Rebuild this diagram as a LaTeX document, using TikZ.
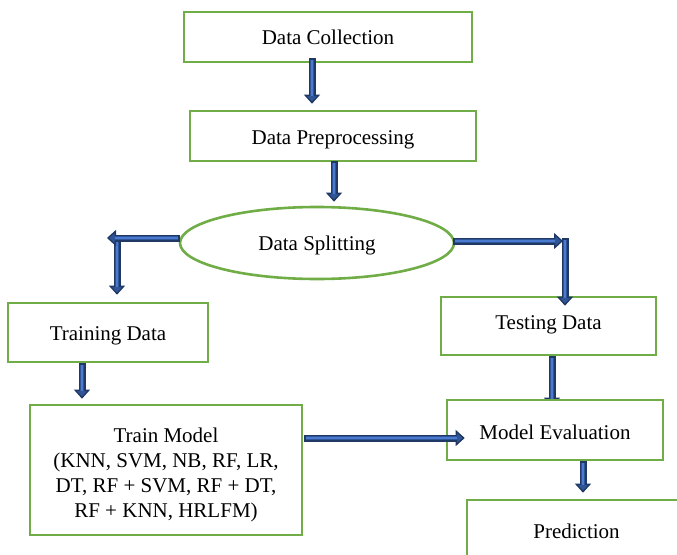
\documentclass[tikz,border=0pt]{standalone}
\usepackage{fontspec}
\setmainfont{Liberation Serif}
\usetikzlibrary{arrows.meta,shapes.geometric,backgrounds}
\definecolor{boxgreen}{HTML}{70AD47}
\definecolor{arrownavy}{HTML}{1F3864}
\definecolor{arrowblue}{HTML}{2F5597}
\definecolor{arrowstripe}{HTML}{4A7BD0}
% block arrow: navy outline, blue body, light centre stripe
\newcommand\flowarrow[2]{%
  \draw[arrownavy, line width=1pt, -{Triangle[length=9pt,width=16pt,fill=arrowblue,line width=1.3pt]}] (#1) -- (#2);
  \draw[arrownavy, line width=7pt, shorten >=8pt] (#1) -- (#2);
  \draw[arrowblue, line width=4pt, shorten >=7pt, shorten <=1.5pt] (#1) -- (#2);
  \draw[arrowstripe, line width=1.2pt, shorten >=8pt, shorten <=1.5pt] (#1) -- (#2);
}
\begin{document}
\begin{tikzpicture}[x=1pt, y=-1pt,
  box/.style={draw=boxgreen, line width=2.6pt, fill=white, rectangle,
    inner sep=0pt, text height=14pt, text depth=0pt,
    font=\fontsize{21}{25}\selectfont}]
\useasboundingbox (0,0) rectangle (677,554);
\clip (0,0) rectangle (677,554);

\node[box, minimum width=288pt, minimum height=50pt] (dc) at (328,37) {Data Collection};
\node[box, minimum width=286pt, minimum height=50pt, text height=16pt] (dp) at (333,136) {Data Preprocessing};
\node[box, ellipse, minimum width=274pt, minimum height=72pt] (ds) at (317,243) {Data Splitting};
\node[box, minimum width=200pt, minimum height=59pt, text height=15pt] (td) at (108,332.5) {Training Data};
\node[box, minimum width=215pt, minimum height=58pt, text depth=8pt] (ted) at (548.5,326) {Testing Data};
\node[box, minimum width=272pt, minimum height=130pt, align=center,
  text height=94pt, text depth=0pt] (tm) at (166,470)
  {Train Model\\(KNN, SVM, NB, RF, LR,\\DT, RF + SVM, RF + DT,\\RF + KNN, HRLFM)};
\node[box, minimum width=216pt, minimum height=60pt, text height=18pt] (me) at (555,430) {Model Evaluation};
\node[box, minimum width=219pt, minimum height=62pt] (pr) at (576.5,531) {Prediction};

% arrow end points
\coordinate (a1s) at ([xshift=-16pt,yshift=5pt]dc.south);
\coordinate (a1e) at ([yshift=6pt]a1s |- dp.north);
\coordinate (a2s) at ([xshift=1pt,yshift=1pt]dp.south);
\coordinate (a2e) at ([yshift=4pt]a2s |- ds.north);
\coordinate (a3s) at ([xshift=1pt,yshift=5pt]ds.west);
\coordinate (a3e) at ([xshift=-1pt]td.north |- a3s);
\coordinate (a4s) at ([xshift=9pt,yshift=1pt]td.north |- a3s);
\coordinate (a4e) at ([xshift=9pt,yshift=7pt]td.north);
\coordinate (a5s) at ([xshift=-2pt,yshift=2pt]ds.east);
\coordinate (a5e) at ([xshift=14.5pt]ted.north |- a5s);
\coordinate (a6s) at ([xshift=16.5pt,yshift=3pt]ted.north |- a5s);
\coordinate (a6e) at ([xshift=16.5pt,yshift=-10pt]ted.north);
\coordinate (a7s) at ([xshift=-26pt]td.south);
\coordinate (a7e) at ([yshift=5pt]a7s |- tm.north);
\coordinate (a8s) at ([xshift=1pt]tm.east |- 0,438);
\coordinate (a8e) at ([xshift=19pt]me.west |- a8s);
\coordinate (a9s) at ([xshift=3.5pt]ted.south);
\coordinate (a9e) at ([yshift=-8pt]a9s |- me.north);
\coordinate (a10s) at ([xshift=28pt]me.south);
\coordinate (a10e) at ([yshift=6pt]a10s |- pr.north);

\flowarrow{a1s}{a1e}
\flowarrow{a2s}{a2e}
\flowarrow{a4s}{a4e}
\flowarrow{a3s}{a3e}
\flowarrow{a5s}{a5e}
\flowarrow{a6s}{a6e}
\flowarrow{a7s}{a7e}
\flowarrow{a8s}{a8e}
\flowarrow{a10s}{a10e}
\begin{scope}[on background layer]
\flowarrow{a9s}{a9e}
\end{scope}
\end{tikzpicture}
\end{document}
